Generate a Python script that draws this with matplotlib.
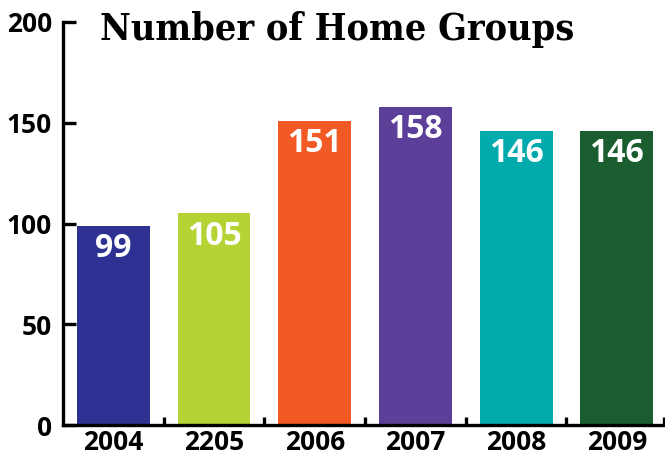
import matplotlib
matplotlib.use("Agg")
import matplotlib.pyplot as plt
from matplotlib.ticker import FixedLocator

categories = ["2004", "2205", "2006", "2007", "2008", "2009"]
values = [99, 105, 151, 158, 146, 146]
colors = ["#2E3192", "#B5D334", "#F15A24", "#5C3F99", "#00AAAD", "#1A5E30"]
yticks = [0, 50, 100, 150, 200]
title = "Number of Home Groups"

fig = plt.figure(figsize=(6.65, 4.55), dpi=100)
ax = fig.add_axes([63/665, 30/455, 1 - 63/665, (425 - 22)/455])

x = list(range(len(categories)))
bars = ax.bar(x, values, width=0.725, color=colors, zorder=2)

for xi, v in zip(x, values):
    ax.annotate(str(v), xy=(xi, v), xytext=(0, -16.5), textcoords="offset points",
                ha="center", va="center", color="white", fontsize=23,
                fontweight="bold", family="Open Sans")

ax.set_xlim(-0.5, 5.48)
ax.set_ylim(0, 200)
ax.set_yticks(yticks)
ax.set_xticks(x)
ax.set_xticklabels(categories)
ax.xaxis.set_minor_locator(FixedLocator([0.5, 1.5, 2.5, 3.5, 4.5, 5.47]))

for s in ["top", "right"]:
    ax.spines[s].set_visible(False)
for s in ["left", "bottom"]:
    ax.spines[s].set_linewidth(2.4)
    ax.spines[s].set_color("black")

ax.tick_params(axis="y", direction="in", length=9, width=2.4, pad=8,
               labelsize=19)
ax.tick_params(axis="x", which="major", length=0, pad=3, labelsize=19)
ax.tick_params(axis="x", which="minor", direction="in", length=6, width=2.4)
for lab in ax.get_xticklabels() + ax.get_yticklabels():
    lab.set_fontfamily("Open Sans")
    lab.set_fontweight("bold")

fig.text(0.507, 0.935, title, ha="center", va="center", fontsize=27,
         fontweight="bold", fontstretch="condensed", family="DejaVu Serif")

fig.savefig("out.png", dpi=100)
